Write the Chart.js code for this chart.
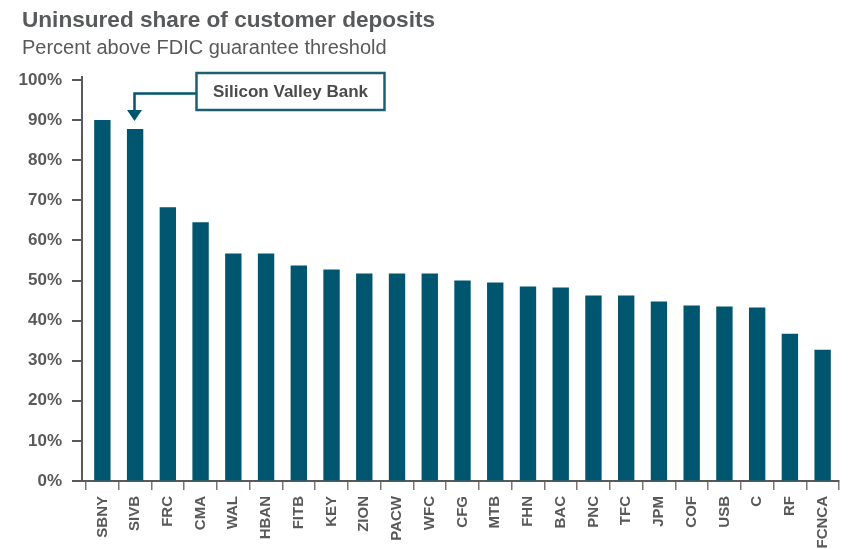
<!DOCTYPE html>
<html><head><meta charset="utf-8">
<script src="https://cdn.jsdelivr.net/npm/chart.js@4.4.0/dist/chart.umd.min.js"></script>
<style>
html,body{margin:0;padding:0;background:#fff;}
#wrap{position:relative;width:848px;height:549px;}
canvas{position:absolute;left:0;top:0;}
.t{position:absolute;left:22px;font-family:'Liberation Sans',Arial,Helvetica,sans-serif;color:#58595b;white-space:nowrap;}
#title{top:8px;font-size:22.6px;line-height:23px;font-weight:bold;}
#sub{top:37px;font-size:20px;line-height:20px;}
</style></head>
<body>
<div id="wrap">
<canvas id="c" width="848" height="549"></canvas>
<div class="t" id="title">Uninsured share of customer deposits</div>
<div class="t" id="sub">Percent above FDIC guarantee threshold</div>
</div>
<script>
const categories = ['SBNY','SIVB','FRC','CMA','WAL','HBAN','FITB','KEY','ZION','PACW','WFC','CFG','MTB','FHN','BAC','PNC','TFC','JPM','COF','USB','C','RF','FCNCA'];
const uninsuredShare = [90, 87.75, 68.25, 64.5, 56.75, 56.75, 53.75, 52.75, 51.75, 51.75, 51.75, 50, 49.5, 48.5, 48.25, 46.25, 46.25, 44.75, 43.75, 43.5, 43.25, 36.75, 32.75];
const yTickValues = [0,10,20,30,40,50,60,70,80,90,100];
const calloutText = 'Silicon Valley Bank';
const calloutIndex = 1;

const FONT = "'Liberation Sans', Arial, Helvetica, sans-serif";
const TEAL = '#00566e';
const AXIS = '#5a5a5a';

const yAxisLine = {
  id: 'yAxisLine',
  afterDraw(chart) {
    const ctx = chart.ctx;
    const a = chart.chartArea;
    const ys = chart.scales.y;
    const ax = a.left - 4;
    ctx.save();
    ctx.strokeStyle = AXIS;
    ctx.lineWidth = 2;
    ctx.beginPath();
    ctx.moveTo(ax, a.top - 4);
    ctx.lineTo(ax, a.bottom + 1);
    ctx.stroke();
    ctx.beginPath();
    yTickValues.forEach(v => {
      const y = Math.round(ys.getPixelForValue(v));
      ctx.moveTo(ax - 10, y);
      ctx.lineTo(v === 0 ? a.left : ax, y);
    });
    ctx.stroke();
    ctx.restore();
  }
};

const callout = {
  id: 'callout',
  afterDraw(chart) {
    const ctx = chart.ctx;
    const x = Math.round(chart.scales.x.getPixelForValue(calloutIndex)) - 0.5;
    const yBar = chart.scales.y.getPixelForValue(uninsuredShare[calloutIndex]);
    const tip = yBar - 8;
    const boxL = x + 62, boxT = 73, boxW = 188, boxH = 37;
    const lineY = boxT + boxH / 2 + 2;
    ctx.save();
    ctx.strokeStyle = TEAL;
    ctx.lineWidth = 2.5;
    ctx.beginPath();
    ctx.moveTo(boxL, lineY);
    ctx.lineTo(x, lineY);
    ctx.lineTo(x, tip - 10);
    ctx.stroke();
    ctx.fillStyle = TEAL;
    ctx.beginPath();
    ctx.moveTo(x - 7.5, tip - 11);
    ctx.lineTo(x + 7.5, tip - 11);
    ctx.lineTo(x, tip);
    ctx.closePath();
    ctx.fill();
    ctx.fillStyle = '#fff';
    ctx.fillRect(boxL, boxT, boxW, boxH);
    ctx.strokeStyle = '#1d5f72';
    ctx.lineWidth = 2.5;
    ctx.strokeRect(boxL, boxT, boxW, boxH);
    ctx.fillStyle = '#4a4a4a';
    ctx.font = 'bold 17px ' + FONT;
    ctx.textAlign = 'center';
    ctx.textBaseline = 'middle';
    ctx.fillText(calloutText, boxL + boxW / 2, boxT + boxH / 2 + 1);
    ctx.restore();
  }
};

new Chart(document.getElementById('c'), {
  type: 'bar',
  data: {
    labels: categories,
    datasets: [{
      data: uninsuredShare,
      backgroundColor: TEAL,
      borderWidth: 0,
      barPercentage: 0.5,
      categoryPercentage: 1.0
    }]
  },
  options: {
    responsive: false,
    animation: false,
    layout: { padding: { top: 80, right: 9, left: 0, bottom: 0 } },
    plugins: { legend: { display: false }, tooltip: { enabled: false }, title: { display: false } },
    scales: {
      y: {
        min: 0, max: 100,
        afterFit(s) { s.width = 86; },
        afterBuildTicks(s) { s.ticks = yTickValues.map(v => ({ value: v })); },
        border: { display: false },
        grid: { drawOnChartArea: false, drawTicks: false },
        ticks: { callback: v => v + '%', color: '#595959', font: { family: FONT, size: 17, weight: 'bold' }, padding: 24 }
      },
      x: {
        afterFit(s) { s.height = 68; },
        border: { color: AXIS, width: 2 },
        grid: { offset: true, drawOnChartArea: false, tickLength: 9, color: '#777', lineWidth: 1.5 },
        ticks: { autoSkip: false, minRotation: 90, maxRotation: 90, color: '#595959', font: { family: FONT, size: 15, weight: 'bold' }, padding: 6 }
      }
    }
  },
  plugins: [yAxisLine, callout]
});
</script>
</body></html>
